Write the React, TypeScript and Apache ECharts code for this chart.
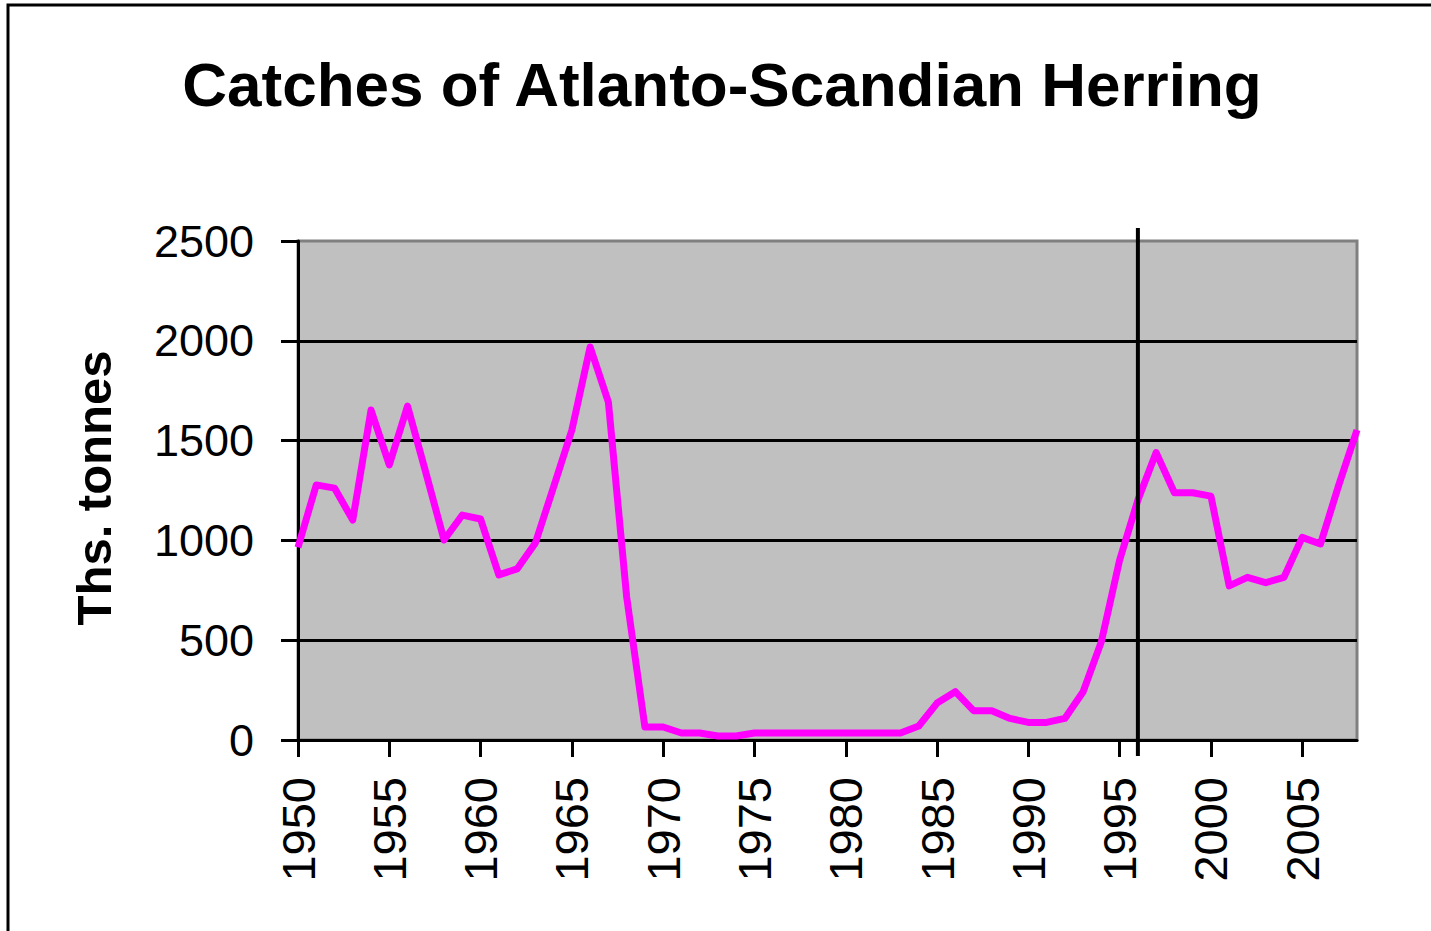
import React, { useEffect, useRef } from "react";
import * as echarts from "echarts";

const years = [
  "1950","1951","1952","1953","1954","1955","1956","1957","1958","1959",
  "1960","1961","1962","1963","1964","1965","1966","1967","1968","1969",
  "1970","1971","1972","1973","1974","1975","1976","1977","1978","1979",
  "1980","1981","1982","1983","1984","1985","1986","1987","1988","1989",
  "1990","1991","1992","1993","1994","1995","1996","1997","1998","1999",
  "2000","2001","2002","2003","2004","2005","2006","2007","2008",
];

const catches = [
  965, 1278, 1262, 1102, 1653, 1378, 1673, 1340, 1002, 1127,
  1107, 827, 857, 987, 1268, 1553, 1969, 1693, 717, 65,
  65, 35, 35, 20, 20, 35, 35, 35, 35, 35,
  35, 35, 35, 35, 70, 185, 242, 147, 147, 108,
  88, 88, 108, 242, 493, 902, 1202, 1440, 1239, 1239,
  1222, 772, 815, 788, 815, 1015, 982, 1277, 1553,
];

const markerYear = "1996";
const titleText = "Catches of Atlanto-Scandian Herring";
const yAxisTitle = "Ths. tonnes";

export default function App() {
  const ref = useRef<HTMLDivElement>(null);

  useEffect(() => {
    document.body.style.margin = "0";
    if (!ref.current) return;
    const chart = echarts.init(ref.current, null, { renderer: "svg" });
    const gridLeft = 298;
    const gridTop = 241;
    const gridRight = 74;
    const gridBottom = 191;
    const font = "'Liberation Sans', Arial, sans-serif";

    chart.setOption({
      animation: false,
      backgroundColor: "#ffffff",
      title: {
        text: titleText,
        left: 717,
        top: 48,
        textAlign: "center",
        textStyle: {
          fontFamily: font,
          fontWeight: "bold",
          fontSize: 62,
          color: "#000000",
        },
      },
      grid: {
        left: gridLeft,
        top: gridTop,
        right: gridRight,
        bottom: gridBottom,
        show: true,
        backgroundColor: "#C0C0C0",
        borderColor: "#808080",
        borderWidth: 3,
        containLabel: false,
      },
      xAxis: {
        type: "category",
        data: years,
        boundaryGap: false,
        axisLine: { show: true, lineStyle: { color: "#000000", width: 3 } },
        axisTick: {
          show: true,
          length: 17,
          interval: (i: number) => i % 5 === 0,
          lineStyle: { color: "#000000", width: 3 },
        },
        axisLabel: {
          interval: (i: number) => i % 5 === 0,
          rotate: 90,
          margin: 37,
          fontFamily: font,
          fontSize: 47,
          color: "#000000",
        },
        splitLine: { show: false },
      },
      yAxis: {
        type: "value",
        min: 0,
        max: 2500,
        interval: 500,
        axisLine: { show: true, lineStyle: { color: "#000000", width: 3 } },
        axisTick: {
          show: true,
          length: 17,
          lineStyle: { color: "#000000", width: 3 },
        },
        axisLabel: {
          margin: 44,
          fontFamily: font,
          fontSize: 45,
          color: "#000000",
          formatter: (v: number) => String(v),
        },
        splitLine: {
          show: true,
          showMinLine: false,
          showMaxLine: false,
          lineStyle: { color: "#000000", width: 3 },
        },
      },
      series: [
        {
          type: "line",
          data: catches,
          symbol: "none",
          lineStyle: { color: "#FF00FF", width: 7, join: "round" },
          itemStyle: { color: "#FF00FF" },
          z: 3,
        },
      ],
    });

    const mx = chart.convertToPixel({ xAxisIndex: 0 }, markerYear) as number;
    const h = 931;
    chart.setOption({
      graphic: [
        {
          type: "rect",
          shape: { x: 8, y: 5, width: 1440, height: 950 },
          style: { fill: "none", stroke: "#000000", lineWidth: 3 },
          silent: true,
        },
        {
          type: "text",
          x: 94,
          y: 488,
          rotation: Math.PI / 2,
          style: {
            text: yAxisTitle,
            fontFamily: font,
            fontWeight: "bold",
            fontSize: 49,
            fill: "#000000",
            align: "center",
            verticalAlign: "middle",
          },
        },
        {
          type: "line",
          shape: { x1: mx, y1: gridTop - 13, x2: mx, y2: h - gridBottom + 16 },
          style: { stroke: "#000000", lineWidth: 4 },
          z: 10,
        },
      ],
    });

    return () => chart.dispose();
  }, []);

  return <div ref={ref} style={{ width: 1431, height: 931 }} />;
}
